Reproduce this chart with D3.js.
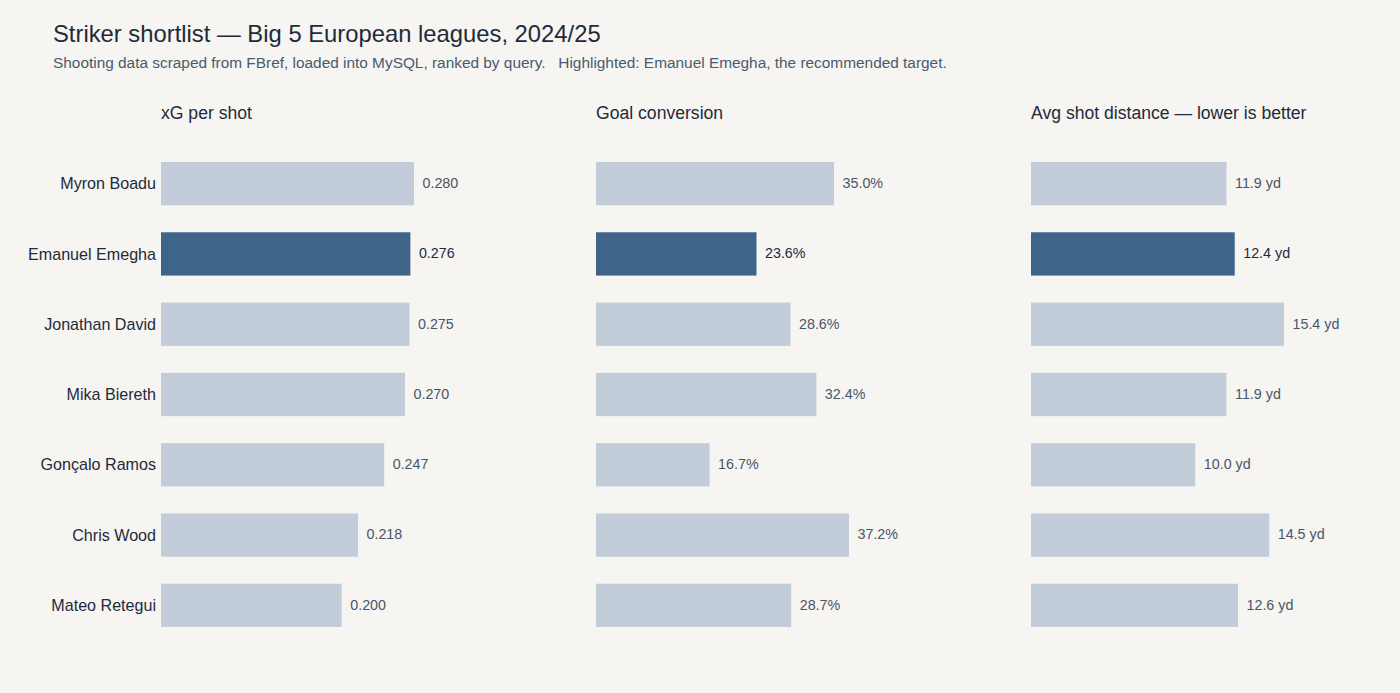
<!DOCTYPE html>
<html><head><meta charset="utf-8">
<script src="https://cdn.jsdelivr.net/npm/d3@7"></script>
<style>
html,body{margin:0;padding:0;background:#f6f5f2;}
svg{display:block;font-family:"Liberation Sans",Arial,sans-serif;}
</style></head><body>
<script>
const players = ["Myron Boadu","Emanuel Emegha","Jonathan David","Mika Biereth","Gonçalo Ramos","Chris Wood","Mateo Retegui"];
const highlight = "Emanuel Emegha";
const xgPerShot = [0.280,0.276,0.275,0.270,0.247,0.218,0.200];
const goalConversion = [35.0,23.6,28.6,32.4,16.7,37.2,28.7];
const avgShotDistance = [11.9,12.4,15.4,11.9,10.0,14.5,12.6];
const panelTitles = ["xG per shot","Goal conversion","Avg shot distance — lower is better"];

const W=1400,H=693;
const svg=d3.select("body").append("svg").attr("width",W).attr("height",H);
svg.append("rect").attr("width",W).attr("height",H).attr("fill","#f6f5f2");

svg.append("text").attr("x",53).attr("y",42).attr("font-size",23.8).attr("fill","#1f2a3a")
  .text("Striker shortlist — Big 5 European leagues, 2024/25");
svg.append("text").attr("x",53).attr("y",67.5).attr("font-size",15.4).attr("fill","#4a5a6e")
  .attr("xml:space","preserve")
  .text("Shooting data scraped from FBref, loaded into MySQL, ranked by query.   Highlighted: Emanuel Emegha, the recommended target.");

const y=d3.scaleBand().domain(players).range([135,654]).paddingInner(0.384).paddingOuter(0.384);

const panels=[
  {vals:xgPerShot, fmt:d=>d.toFixed(3)},
  {vals:goalConversion, fmt:d=>d.toFixed(1)+"%"},
  {vals:avgShotDistance, fmt:d=>d.toFixed(1)+" yd"}
];
const panelX=d3.scalePoint().domain([0,1,2]).range([161,1031]);

svg.append("g").selectAll("text").data(players).join("text")
  .attr("x",156).attr("y",d=>y(d)+y.bandwidth()/2).attr("dy","0.35em")
  .attr("text-anchor","end").attr("font-size",16.1).attr("fill","#1f2a3a").text(d=>d);

panels.forEach((p,i)=>{
  const x0=panelX(i);
  const g=svg.append("g").attr("transform",`translate(${x0},0)`);
  const x=d3.scaleLinear().domain([0,d3.max(p.vals)]).range([0,253]);
  g.append("text").attr("x",0).attr("y",119).attr("font-size",17.6).attr("fill","#1f2a3a").text(panelTitles[i]);
  const data=players.map((n,j)=>({n,v:p.vals[j]}));
  g.selectAll("rect").data(data).join("rect")
    .attr("x",0).attr("y",d=>y(d.n)).attr("height",y.bandwidth())
    .attr("width",d=>x(d.v)).attr("fill",d=>d.n===highlight?"#3e6489":"#c3cdd9");
  g.selectAll("text.v").data(data).join("text").attr("class","v")
    .attr("x",d=>x(d.v)+8.5).attr("y",d=>y(d.n)+y.bandwidth()/2).attr("dy","0.3em")
    .attr("font-size",14.3).attr("fill",d=>d.n===highlight?"#1f2a3a":"#4a5568").text(d=>p.fmt(d.v));
});
</script></body></html>
